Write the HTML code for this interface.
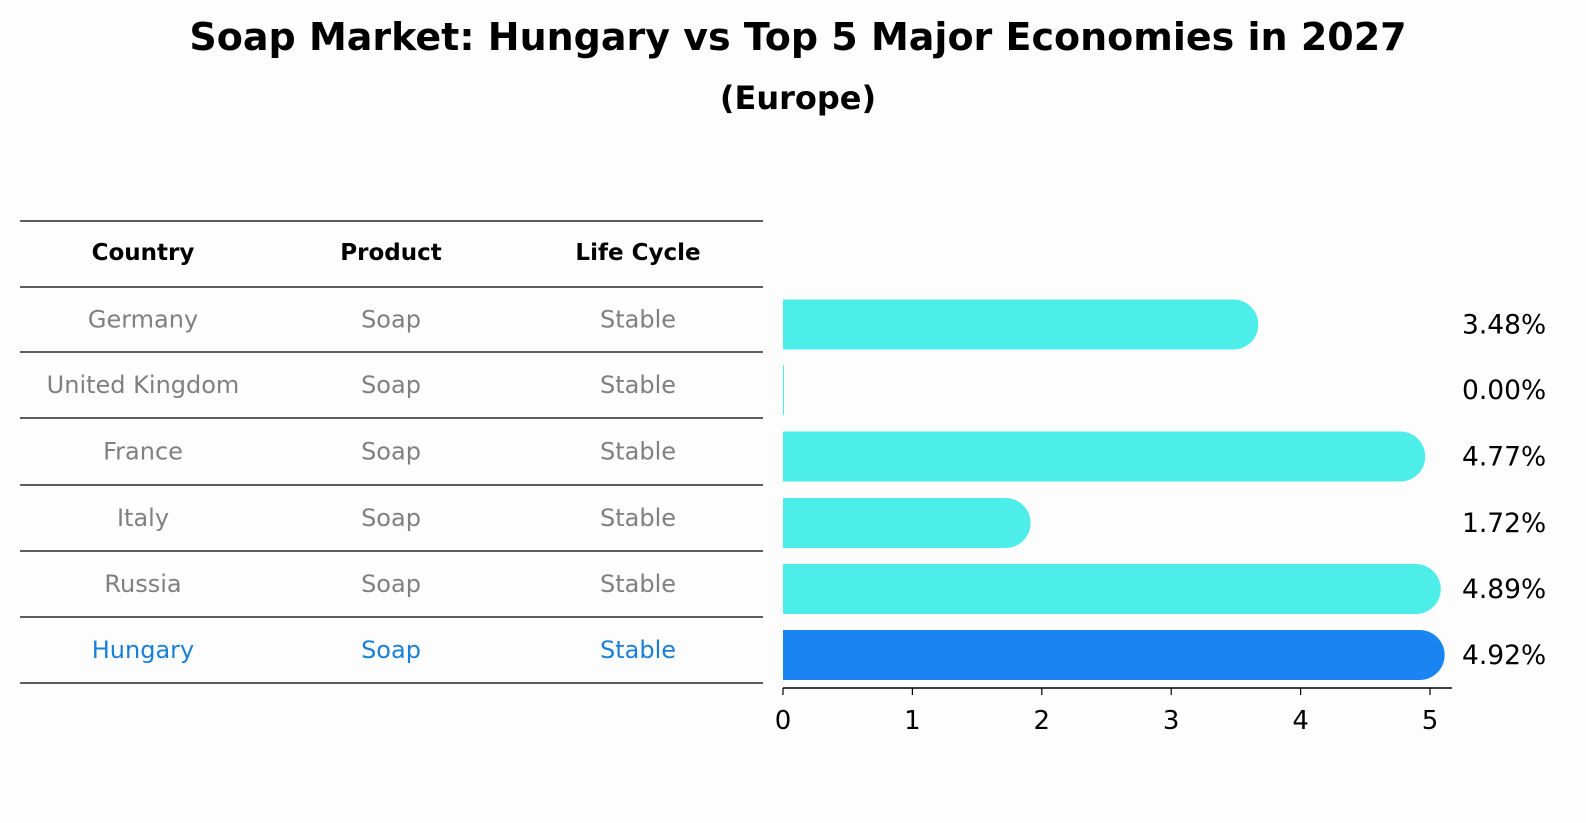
<!DOCTYPE html>
<html><head><meta charset="utf-8"><style>
body{margin:0;background:#fdfdfd;font-family:"DejaVu Sans","Liberation Sans",sans-serif}
svg{display:block}
</style></head><body>
<svg width="1586" height="823" font-family="DejaVu Sans, Liberation Sans, sans-serif">
<rect width="1586" height="823" fill="#fdfdfd"/>
<text x="798" y="50" text-anchor="middle" font-size="38" font-weight="bold">Soap Market: Hungary vs Top 5 Major Economies in 2027</text>
<text x="798" y="109" text-anchor="middle" font-size="32" font-weight="bold">(Europe)</text>
<g id="tbl"></g>
<g id="bars"></g>
</svg>
<script>
const countries=["Germany","United Kingdom","France","Italy","Russia","Hungary"];
const products=["Soap","Soap","Soap","Soap","Soap","Soap"];
const lifecycle=["Stable","Stable","Stable","Stable","Stable","Stable"];
const values=[3.48,0.00,4.77,1.72,4.89,4.92];
const ticks=[0,1,2,3,4,5];
const highlight="Hungary";
const NS="http://www.w3.org/2000/svg";
function mk(t,a,p){const e=document.createElementNS(NS,t);for(const k in a)e.setAttribute(k,a[k]);p.appendChild(e);return e;}
const tbl=document.getElementById('tbl'),bars=document.getElementById('bars');
const lineYs=[221,287,352,418,485,551,617,683];
const rowY=i=>(lineYs[i+1]+lineYs[i+2])/2;
const colX=[143,391,638];
lineYs.forEach((y,i)=>{const l=mk('line',{x1:20,x2:763,y1:y,y2:y,stroke:'#000','stroke-width':1.2},tbl);

});
["Country","Product","Life Cycle"].forEach((h,j)=>{const t=mk('text',{x:colX[j],y:260,'text-anchor':'middle','font-size':23,'font-weight':'bold'},tbl);t.textContent=h;

});
const x0=783,sc=129.4,bh=50,r=25;
const xs=v=>x0+v*sc;
countries.forEach((c,i)=>{
 const hi=c===highlight,col=hi?'#1a7fd6':'#808080',y=rowY(i);
 [c,products[i],lifecycle[i]].forEach((v,j)=>{const t=mk('text',{x:colX[j],y:y+8,'text-anchor':'middle','font-size':24,fill:col},tbl);t.textContent=v;
 
 });
 const by=y+5, fill=hi?'#1a84f2':'#4deee9';
 const w=xs(values[i])-x0;
 const g=mk('g',{},bars);
 
 
 mk('rect',{x:x0,y:by-bh/2,width:Math.max(w,1),height:bh,fill:fill},g);
 if(w>0)mk('circle',{cx:xs(values[i]),cy:by,r:r,fill:fill},g);
 const t=mk('text',{x:1462,y:by+9,'font-size':26.5},bars);t.textContent=values[i].toFixed(2)+'%';
 
 
});
const ax=mk('line',{x1:x0,x2:1452,y1:688,y2:688,stroke:'#000','stroke-width':1.5},bars);


ticks.forEach(v=>{mk('line',{x1:xs(v),x2:xs(v),y1:688,y2:695,stroke:'#000','stroke-width':1.2},bars);
 const t=mk('text',{x:xs(v),y:729,'text-anchor':'middle','font-size':26},bars);t.textContent=v;
 
 });
</script>
</body></html>
